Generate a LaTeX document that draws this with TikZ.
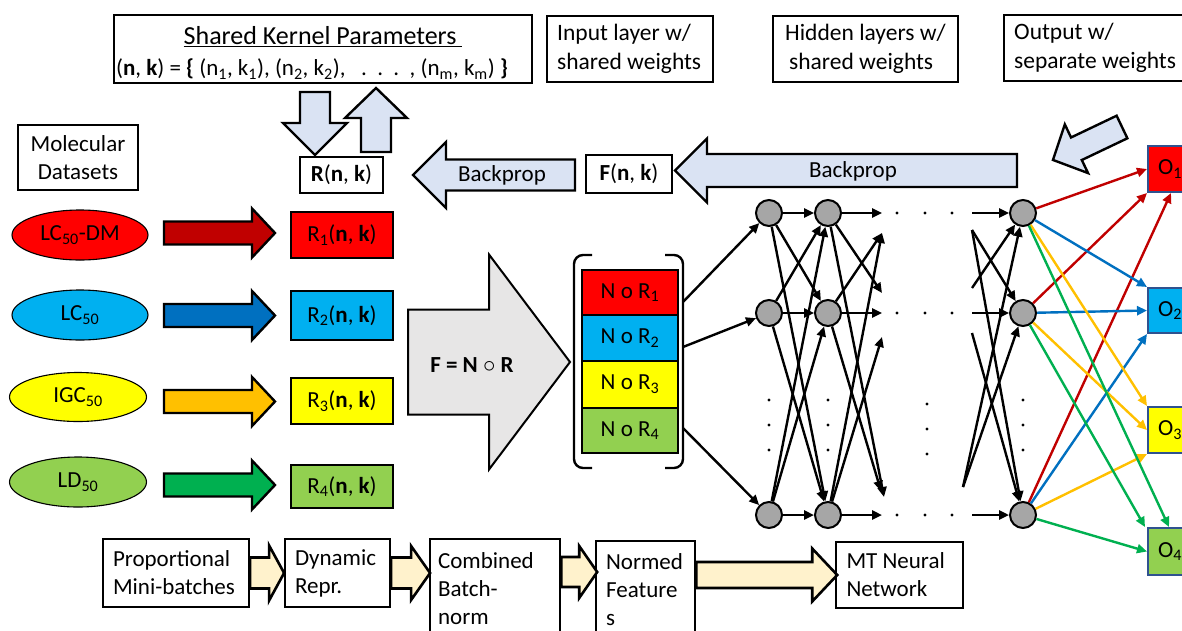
\documentclass[tikz,border=0pt]{standalone}
\usepackage{fontspec}
\setmainfont{Carlito}
\usetikzlibrary{arrows.meta,shapes.geometric}
\definecolor{bpblue}{HTML}{DAE3F3}
\definecolor{cream}{HTML}{FFF2CC}
\definecolor{lgray}{HTML}{E7E6E6}
\definecolor{nodegray}{HTML}{A6A6A6}
\definecolor{cRed}{HTML}{FF0000}
\definecolor{cCyan}{HTML}{00B0F0}
\definecolor{cYel}{HTML}{FFFF00}
\definecolor{cLime}{HTML}{92D050}
\definecolor{dRed}{HTML}{C00000}
\definecolor{dBlue}{HTML}{0070C0}
\definecolor{dOrange}{HTML}{FFC000}
\definecolor{dGreen}{HTML}{00B050}
\definecolor{oEdge}{HTML}{2F528F}

% block arrow: style, start point, direction, length, shaft half width, head half width, head length
\newcommand\blockarrow[7]{%
  \path[#1, shift={#2}, rotate=#3] (0,-#5) -- ({#4-#7},-#5) -- ({#4-#7},-#6) -- (#4,0)
    -- ({#4-#7},#6) -- ({#4-#7},#5) -- (0,#5) -- cycle;}

\tikzset{
  every node/.style={font=\fontsize{23}{28}\selectfont},
  capfont/.style={font=\fontsize{23.5}{28.5}\selectfont},
  box/.style={draw, line width=2.2pt, fill=white, inner sep=0pt},
  thinbox/.style={draw, line width=1.4pt, fill=white, inner sep=0pt},
  captext/.style={anchor=west, align=flush left, inner sep=0pt, capfont},
  ell/.style={ellipse, draw, line width=1.1pt, inner sep=0pt},
  neuron/.style={circle, draw, fill=nodegray, line width=2pt, minimum size=26pt, inner sep=0pt},
  net/.style={line width=2.4pt, -{Triangle[length=10pt,width=9pt]}},
  col/.style={line width=2.4pt, -{Triangle[length=10pt,width=9pt]}},
  obox/.style={draw=oEdge, line width=2pt, minimum width=52pt, inner sep=0pt},
  bparrow/.style={fill=bpblue, draw, line width=2.4pt, line join=miter},
  crarrow/.style={fill=cream, draw, line width=2.6pt, line join=miter},
  colarrow/.style={draw, line width=2.4pt, line join=miter},
  dot/.style={fill=black},
}

\begin{document}
\begin{tikzpicture}[x=1pt, y=-1pt]
\useasboundingbox (0,0) rectangle (1182,630);
\fill[white] (0,0) rectangle (1182,630);
\clip (0,0) rectangle (1182,630);

% ---------- shared kernel parameters ----------
\node[box, minimum width=418pt, minimum height=68pt] (kern) at (323,49) {};
\node[font=\fontsize{26}{30}\selectfont] (kernt) at (323,37) {\underline{Shared Kernel Parameters\ }};
\node[font=\fontsize{23}{28}\selectfont] (kernv) at (312,69) {(\textbf{n}, \textbf{k}) = \textbf{\{} (n\textsubscript{1}, k\textsubscript{1}), (n\textsubscript{2}, k\textsubscript{2}), \ \ .\ \ .\ \ .\ \ , (n\textsubscript{m}, k\textsubscript{m}) \textbf{\}}};

\blockarrow{bparrow}{(315,92)}{-90}{63}{15}{32}{32}
\blockarrow{bparrow}{(376,152)}{90}{64}{15}{31}{30}

\node[box, minimum width=83pt, minimum height=36pt] (R) at (341.5,175) {\textbf{R}(\textbf{n}, \textbf{k})};
\node[thinbox, minimum width=120pt, minimum height=65pt, align=flush center] (mol) at (78,157.5) {Molecular\\Datasets};

% ---------- backprop ----------
\blockarrow{bparrow}{(575,175)}{180}{162}{15.5}{33}{33}
\node (bp1) at (502,175) {Backprop};
\node[box, minimum width=86pt, minimum height=38pt] (F) at (629,174) {\textbf{F}(\textbf{n}, \textbf{k})};
\blockarrow{bparrow}{(1017,170.5)}{180}{342}{16.5}{32}{32}
\node (bp2) at (853,171) {Backprop};
\blockarrow{bparrow}{(1122,127)}{205.5}{76.5}{12.5}{27}{26}

% ---------- layer captions ----------
\node[thinbox, line width=1.8pt, minimum width=166pt, minimum height=66pt] (inp) at (630,49) {};
\node[captext] (inpt) at (557,49) {Input layer w/\\shared weights};
\node[thinbox, line width=1.8pt, minimum width=185pt, minimum height=66pt] (hid) at (865.5,49) {};
\node[captext] (hidt) at (785,49) {Hidden layers w/\\\hspace*{4pt}shared weights};
\node[thinbox, line width=1.8pt, minimum width=196pt, minimum height=66pt] (outc) at (1102,48) {};
\node[captext] (outct) at (1014,48) {Output w/\\separate weights};

% ---------- datasets ----------
\node[ell, fill=cRed, minimum width=136pt, minimum height=50pt] (e1) at (80,235) {LC\textsubscript{50}-DM};
\node[ell, fill=cCyan, minimum width=136pt, minimum height=50pt] (e2) at (80,315) {LC\textsubscript{50}};
\node[ell, fill=cYel, minimum width=137pt, minimum height=49pt] (e3) at (78,397) {IGC\textsubscript{50}};
\node[ell, fill=cLime, minimum width=137pt, minimum height=50pt] (e4) at (78,482) {LD\textsubscript{50}};

\blockarrow{colarrow, fill=dRed}{(164,233)}{0}{111}{11.5}{24.5}{23}
\blockarrow{colarrow, fill=dBlue}{(164,315.5)}{0}{111}{11.5}{24.5}{23}
\blockarrow{colarrow, fill=dOrange}{(164,401.5)}{0}{111}{11.5}{24.5}{23}
\blockarrow{colarrow, fill=dGreen}{(164,485)}{0}{111}{11.5}{24.5}{23}

\node[box, fill=cRed, minimum width=102pt, minimum height=46pt] (r1) at (342,235) {R\textsubscript{1}(\textbf{n}, \textbf{k})};
\node[box, fill=cCyan, minimum width=102pt, minimum height=49pt] (r2) at (342,315.5) {R\textsubscript{2}(\textbf{n}, \textbf{k})};
\node[box, fill=cYel, minimum width=102pt, minimum height=46pt] (r3) at (342,401) {R\textsubscript{3}(\textbf{n}, \textbf{k})};
\node[box, fill=cLime, minimum width=102pt, minimum height=43pt] (r4) at (342,486.5) {R\textsubscript{4}(\textbf{n}, \textbf{k})};

% ---------- feature composition ----------
\blockarrow{draw, fill=lgray, line width=2pt, line join=miter}{(408,362)}{0}{162}{52.5}{107.5}{81}
\node (comp) at (472,365) {\textbf{F = N} $\circ$ \textbf{R}};

\node[box, line width=2.6pt, fill=cRed, minimum width=96pt, minimum height=45pt] (s1) at (630,292.5) {N o R\textsubscript{1}};
\node[box, line width=2.6pt, fill=cCyan, minimum width=96pt, minimum height=46pt] (s2) at (630,338) {N o R\textsubscript{2}};
\node[box, line width=2.6pt, fill=cYel, minimum width=96pt, minimum height=47pt] (s3) at (630,384.5) {N o R\textsubscript{3}};
\node[box, line width=2.6pt, fill=cLime, minimum width=96pt, minimum height=45pt] (s4) at (630,430.5) {N o R\textsubscript{4}};
\draw[line width=2.4pt, rounded corners=9pt] (592,255) -- (574,255) -- (574,468) -- (592,468);
\draw[line width=2.4pt, rounded corners=9pt] (665,255) -- (683,255) -- (683,468) -- (665,468);

% ---------- network ----------
\foreach \r/\y in {1/213, 2/313, 3/515} {
  \node[neuron] (a\r) at (769,\y) {};
  \node[neuron] (b\r) at (828,\y) {};
  \node[neuron] (z\r) at (1023,\y) {};
}
\coordinate (p1) at (683,302);
\coordinate (p2) at (683,347);
\coordinate (p3) at (683,428);
\draw[net] (p1) -- (a1);
\draw[net] (p2) -- (a2);
\draw[net] (p3) -- (a3);
\foreach \i in {1,2,3} \foreach \j in {1,2,3} \draw[net] (a\i) -- (b\j);

% open ends after the second layer
\coordinate (u1) at (882,213);
\coordinate (u1b) at (882,233);
\coordinate (u2a) at (882,293);
\coordinate (u2) at (882,313);
\coordinate (u2b) at (882,337);
\coordinate (u3a) at (881,491);
\coordinate (u3b) at (884,497);
\coordinate (u3) at (882,515);
\draw[net] (b1) -- (u1);
\draw[net] (b1) -- (u2a);
\draw[net] (b1) -- (u3b);
\draw[net] (b2) -- (u2);
\draw[net] (b2) -- (u1b);
\draw[net] (b2) -- (u3a);
\draw[net] (b3) -- (u3);
\draw[net] (b3) -- (u1b);
\draw[net] (b3) -- (u2b);

% open starts before the last layer
\coordinate (v1) at (972,213);
\coordinate (v1b) at (972,230);
\coordinate (v2a) at (972,288);
\coordinate (v2) at (972,313);
\coordinate (v2b) at (972,333);
\coordinate (v3a) at (963,487);
\coordinate (v3) at (972,515);
\draw[net] (v1) -- (z1);
\draw[net] (v2a) -- (z1);
\draw[net] (v3a) -- (z1);
\draw[net] (v2) -- (z2);
\draw[net] (v1b) -- (z2);
\draw[net] (v3a) -- (z2);
\draw[net] (v3) -- (z3);
\draw[net] (v1b) -- (z3);
\draw[net] (v2b) -- (z3);

% ellipsis dots
\foreach \y in {213,313,515} \foreach \x in {897,925,952} \fill[dot] (\x,\y) circle (1.6pt);
\foreach \x in {769,828,1023} \foreach \y in {400,425,450} \fill[dot] (\x,\y) circle (1.6pt);
\foreach \y in {404,429,454} \fill[dot] (927,\y) circle (1.6pt);

% ---------- outputs ----------
\node[obox, fill=cRed, minimum height=46pt] (o1) at (1174,169) {};
\node[obox, fill=cCyan, minimum height=45pt] (o2) at (1174,310.5) {};
\node[obox, fill=cYel, minimum height=46pt] (o3) at (1174,430) {};
\node[obox, fill=cLime, minimum height=47pt] (o4) at (1174,551.5) {};
\foreach \k in {1,2,3,4} \node[anchor=west, inner sep=0pt] (o\k t) at ([xshift=11pt]o\k.west) {O\textsubscript{\k}};

\draw[col, dRed] (z1) -- (o1.west);
\draw[col, dRed] (z2) -- (o1.south west);
\draw[col, dRed] (z3) -- ([xshift=24pt]o1.south west);
\draw[col, dBlue] (z1) -- (o2.north west);
\draw[col, dBlue] (z2) -- (o2.west);
\draw[col, dBlue] (z3) -- (o2.south west);
\draw[col, dOrange] (z1) -- (o3.north west);
\draw[col, dOrange] (z2) -- (o3.west);
\draw[col, dOrange] (z3) -- (o3.south west);
\draw[col, dGreen] (z1) -- ([xshift=22pt]o4.north west);
\draw[col, dGreen] (z2) -- ([xshift=-2pt]o4.north west);
\draw[col, dGreen] (z3) -- (o4.west);

% ---------- pipeline ----------
\node[box, minimum width=146pt, minimum height=68pt, text width=126pt, inner xsep=10pt, align=flush left] (prop) at (176,573) {Proportional\\Mini-batches};
\node[box, minimum width=105pt, minimum height=68pt, text width=85pt, inner xsep=10pt, align=flush left] (dyn) at (337.5,573) {Dynamic\\Repr.};
\node[box, anchor=north west, inner xsep=8pt, inner ysep=13pt] (comb) at (429,538) {\parbox[t][95pt][t]{114pt}{\raggedright Combined\\Batch-\\norm}};
\node[box, anchor=north west, inner xsep=10pt, inner ysep=12pt] (norm) at (595,540) {\parbox[t][95pt][t]{79pt}{\raggedright Normed\\Feature\\s}};
\node[box, minimum width=127pt, minimum height=66pt, text width=106pt, inner xsep=10.5pt, align=flush left] (mt) at (899.5,575) {MT Neural\\Network};

\blockarrow{crarrow}{(prop.east)}{0}{34}{15.5}{27.5}{15}
\blockarrow{crarrow}{(dyn.east)}{0}{39}{15.5}{27}{19}
\blockarrow{crarrow}{([yshift=-34pt]comb.north east)}{0}{36}{15}{26}{18}
\blockarrow{crarrow}{([yshift=-35pt]norm.north east)}{0}{141}{13}{26.5}{25}
\end{tikzpicture}
\end{document}
